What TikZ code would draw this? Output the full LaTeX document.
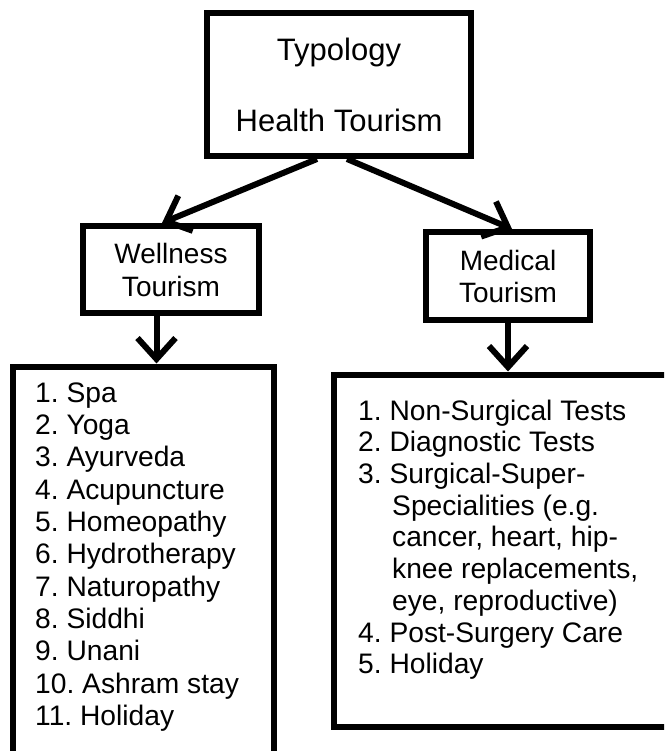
\documentclass[tikz,border=0pt]{standalone}
\usepackage{fontspec}
\setmainfont{Liberation Sans}
\frenchspacing
\usetikzlibrary{arrows.meta,calc}
\begin{document}
\begin{tikzpicture}[x=1pt,y=-1pt,
  boxstyle/.style={draw=black, line width=6pt, rectangle, inner sep=0pt, fill=white},
  conn/.style={line width=6pt, -{Straight Barb[length=21pt,width=38pt]}},
  listtext/.style={font=\fontsize{28.2}{32.3}\selectfont\frenchspacing, align=left, inner sep=0pt, anchor=north west}]
\useasboundingbox (0,0) rectangle (664,751);
\clip (0,0) rectangle (664,751);
\node[boxstyle, minimum width=264pt, minimum height=143pt, align=center,
      font=\fontsize{31}{71}\selectfont] (top) at (339,84.5) {Typology\\Health Tourism};
\node[boxstyle, minimum width=176pt, minimum height=87pt, align=center,
      font=\fontsize{28}{33}\selectfont] (well) at (171,269.5) {Wellness\\Tourism};
\node[boxstyle, minimum width=164pt, minimum height=88pt, align=center,
      font=\fontsize{28}{32}\selectfont] (med) at (508,276) {Medical\\Tourism};
\node[boxstyle, minimum width=261pt, minimum height=434pt] (wlist) at (143.5,583.5) {};
\node[boxstyle, minimum width=366pt, minimum height=352.5pt] (mlist) at (517.25,550.75) {};
\node[listtext] (wtext) at (35,382.5) {1. Spa\\2. Yoga\\3. Ayurveda\\4. Acupuncture\\5. Homeopathy\\6. Hydrotherapy\\7. Naturopathy\\8. Siddhi\\9. Unani\\10. Ashram stay\\11. Holiday};
\node[listtext, font=\fontsize{28.2}{31.7}\selectfont\frenchspacing] (mtext) at (358,399.5) {1. Non-Surgical Tests\\2. Diagnostic Tests\\3. Surgical-Super-\\\hspace*{34pt}Specialities (e.g.\\\hspace*{34pt}cancer, heart, hip-\\\hspace*{34pt}knee replacements,\\\hspace*{34pt}eye, reproductive)\\4. Post-Surgery Care\\5. Holiday};
\coordinate (wa) at ($(well.south)+(-14.5,0)$);
\coordinate (ma) at ($(med.south)+(0,0)$);
\draw[conn] ($(top.south)+(-22,0)$) -- ($(well.north)+(-9,0)$);
\draw[conn] ($(top.south)+(8,0)$) -- ($(med.north)+(4,0)$);
\draw[conn] (wa) -- (wa |- wlist.north);
\draw[conn] (ma) -- (ma |- mlist.north);
\end{tikzpicture}
\end{document}
